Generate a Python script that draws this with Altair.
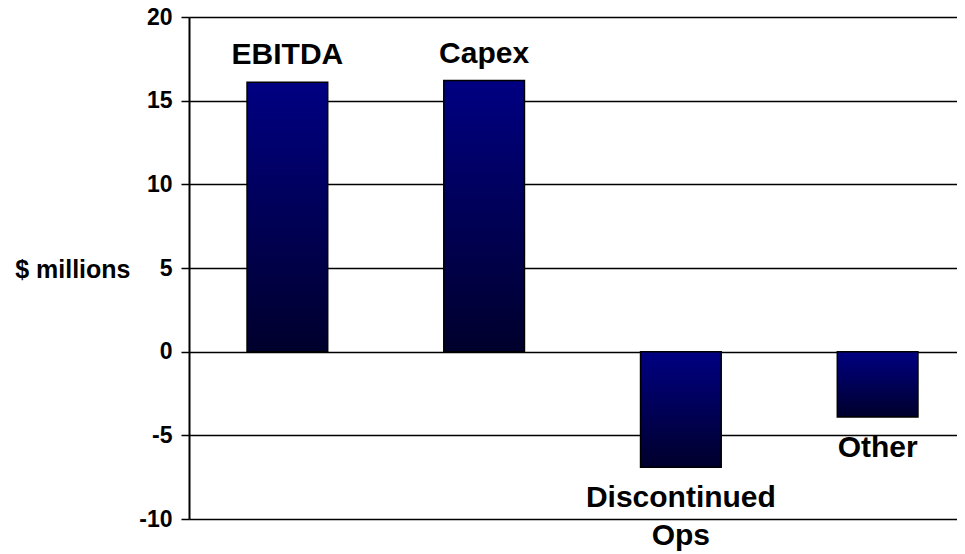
import altair as alt
import pandas as pd

categories = ["EBITDA", "Capex", "Discontinued Ops", "Other"]
values = [16.1, 16.2, -6.9, -3.9]
label_lines = [["EBITDA"], ["Capex"], ["Discontinued", "Ops"], ["Other"]]
y_ticks = [-10, -5, 0, 5, 10, 15, 20]

df = pd.DataFrame({"category": categories, "value": values, "label": label_lines})

FONT = "Liberation Sans"

x_enc = alt.X(
    "category:N",
    sort=categories,
    scale=alt.Scale(range=[0, 787], paddingInner=0.59, paddingOuter=0.295),
    axis=None,
)
y_enc = alt.Y(
    "value:Q",
    scale=alt.Scale(domain=[-10, 20], nice=False),
    axis=alt.Axis(
        values=y_ticks,
        labelExpr="'' + datum.value",
        title="$ millions",
        titleAngle=0,
        titleAlign="right",
        titleBaseline="middle",
        titleX=-59,
        titleY=252,
        titleFont=FONT,
        titleFontSize=25,
        titleFontWeight="bold",
        titleColor="black",
        labelFont=FONT,
        labelFontSize=23,
        labelFontWeight="bold",
        labelColor="black",
        labelPadding=9,
        labelFlush=False,
        labelOverlap=False,
        tickSize=8,
        tickColor="black",
        tickWidth=1.5,
        domainColor="black",
        domainWidth=2,
        grid=True,
        gridColor="black",
        gridWidth=1.5,
        gridOpacity=1,
    ),
)

gradient = alt.Gradient(
    gradient="linear",
    stops=[
        alt.GradientStop(color="#000082", offset=0),
        alt.GradientStop(color="#00002c", offset=1),
    ],
    x1=0, x2=0, y1=0, y2=1,
)

bars = alt.Chart(df).mark_bar(
    color=gradient, stroke="black", strokeWidth=1.5
).encode(x=x_enc, y=y_enc)

pos_text = alt.Chart(df).transform_filter("datum.value >= 0").mark_text(
    font=FONT, fontSize=30, fontWeight="bold", color="black",
    baseline="alphabetic", dy=-18,
).encode(x=x_enc, y=alt.Y("value:Q"), text="label")

neg_text = alt.Chart(df).transform_filter("datum.value < 0").mark_text(
    font=FONT, fontSize=30, fontWeight="bold", color="black",
    baseline="top", dy=16, lineHeight=38,
).encode(x=x_enc, y=alt.Y("value:Q"), text="label")

chart = (
    alt.layer(bars, pos_text, neg_text)
    .properties(
        width=768,
        height=502,
        autosize=alt.AutoSizeParams(type="none"),
        padding={"left": 181, "top": 9, "right": 0, "bottom": 37},
    )
    .configure_view(strokeWidth=0)
)

chart.save("out.html", embed_options={"renderer": "svg", "actions": False})
